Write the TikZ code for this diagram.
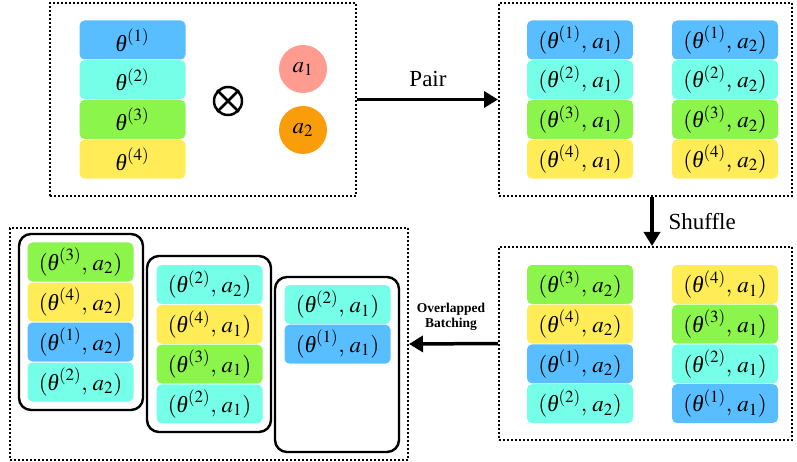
\documentclass[tikz,border=0pt]{standalone}
\usepackage{amsmath}
\usepackage{mathptmx}
\usepackage{fontspec}
\setmainfont{Liberation Serif}
\usepackage{tikz}
\usetikzlibrary{arrows.meta, positioning, calc}

% one colour per theta index
\definecolor{c1}{RGB}{88,190,255}
\definecolor{c2}{RGB}{118,255,232}
\definecolor{c3}{RGB}{139,245,76}
\definecolor{c4}{RGB}{255,236,87}
\definecolor{cSalmon}{RGB}{255,155,143}
\definecolor{cOrange}{RGB}{249,157,10}

% italic theta from the text font
\newcommand{\thet}{\text{\itshape θ}}
\newcommand{\pairlab}[2]{$(\thet^{(#1)},\, a_{#2})$}

\tikzset{
  cell/.style={rounded corners=5pt, minimum width=106pt, minimum height=39pt, inner sep=0pt, font=\fontsize{23}{27}\selectfont},
  frame/.style={draw, line width=2pt, dotted, inner sep=0pt},
  group/.style={draw, line width=2.4pt, rounded corners=12pt, inner sep=0pt},
  bigarrow/.style={line width=3.5pt, -{Triangle[length=14pt,width=16pt]}},
  lbl/.style={font=\fontsize{23}{27}\selectfont}
}

\begin{document}
\begin{tikzpicture}[x=1pt, y=-1pt]
\useasboundingbox (0,0) rectangle (797,462);

% dotted frames
\node[frame, minimum width=306pt, minimum height=193pt] (f1) at (203,99.5) {};
\node[frame, minimum width=293pt, minimum height=193pt] (f2) at (645.5,99.5) {};
\node[frame, minimum width=293pt, minimum height=193pt] (f3) at (645.5,343.5) {};
\node[frame, minimum width=398pt, minimum height=232pt] (f4) at (209,344) {};

% parameters and actions
\foreach \i in {1,...,4} {
  \node[cell, fill=c\i] (th\i) at (132.5,{40+39.7*(\i-1)}) {$\thet^{(\i)}$};
}
\node[circle, draw, line width=2.5pt, minimum size=28pt, inner sep=0pt] (ot) at (228,101) {};
\draw[line width=2.5pt] (ot.north west) -- (ot.south east) (ot.north east) -- (ot.south west);
\node[circle, fill=cSalmon, minimum size=48pt, inner sep=0pt, font=\fontsize{23}{27}\selectfont] (a1) at (303,69) {$a_1$};
\node[circle, fill=cOrange, minimum size=48pt, inner sep=0pt, font=\fontsize{23}{27}\selectfont] (a2) at (303,130) {$a_2$};

% paired
\foreach \i in {1,...,4} {
  \node[cell, fill=c\i] (pA\i) at (580,{40+39.7*(\i-1)}) {\pairlab{\i}{1}};
  \node[cell, fill=c\i] (pB\i) at (725,{40+39.7*(\i-1)}) {\pairlab{\i}{2}};
}

% shuffled
\foreach \t/\a [count=\i] in {3/2,4/2,1/2,2/2} {
  \node[cell, fill=c\t] (sA\i) at (580,{284.5+39.7*(\i-1)}) {\pairlab{\t}{\a}};
}
\foreach \t/\a [count=\i] in {4/1,3/1,2/1,1/1} {
  \node[cell, fill=c\t] (sB\i) at (725,{284.5+39.7*(\i-1)}) {\pairlab{\t}{\a}};
}

% batches
\node[group, minimum width=124pt, minimum height=176pt] (g1) at (81,322) {};
\node[group, minimum width=124pt, minimum height=176pt] (g2) at (209,344) {};
\node[group, minimum width=124pt, minimum height=175pt] (g3) at (337,364.5) {};
\foreach \t/\a [count=\i] in {3/2,4/2,1/2,2/2} {
  \node[cell, fill=c\t] (bA\i) at (80.5,{262+40*(\i-1)}) {\pairlab{\t}{\a}};
}
\foreach \t/\a [count=\i] in {2/2,4/1,3/1,2/1} {
  \node[cell, fill=c\t] (bB\i) at (209.5,{284.5+39.8*(\i-1)}) {\pairlab{\t}{\a}};
}
\foreach \t/\a [count=\i] in {2/1,1/1} {
  \node[cell, fill=c\t] (bC\i) at (337.5,{304.5+39.7*(\i-1)}) {\pairlab{\t}{\a}};
}

% arrows
\draw[bigarrow] (f1.east) -- (f2.west);
\node[lbl] (pairlbl) at (428,79) {Pair};
\draw[bigarrow] (f2.south -| 652,0) -- (f3.north -| 652,0);
\node[lbl, anchor=west] (shuflbl) at (665,222) {Shuffle};
\draw[bigarrow] (f3.west) -- (f4.east);
\node[font=\bfseries\fontsize{13.5}{15}\selectfont, align=center] (ovllbl) at (451,317) {Overlapped\\Batching};
\end{tikzpicture}
\end{document}
